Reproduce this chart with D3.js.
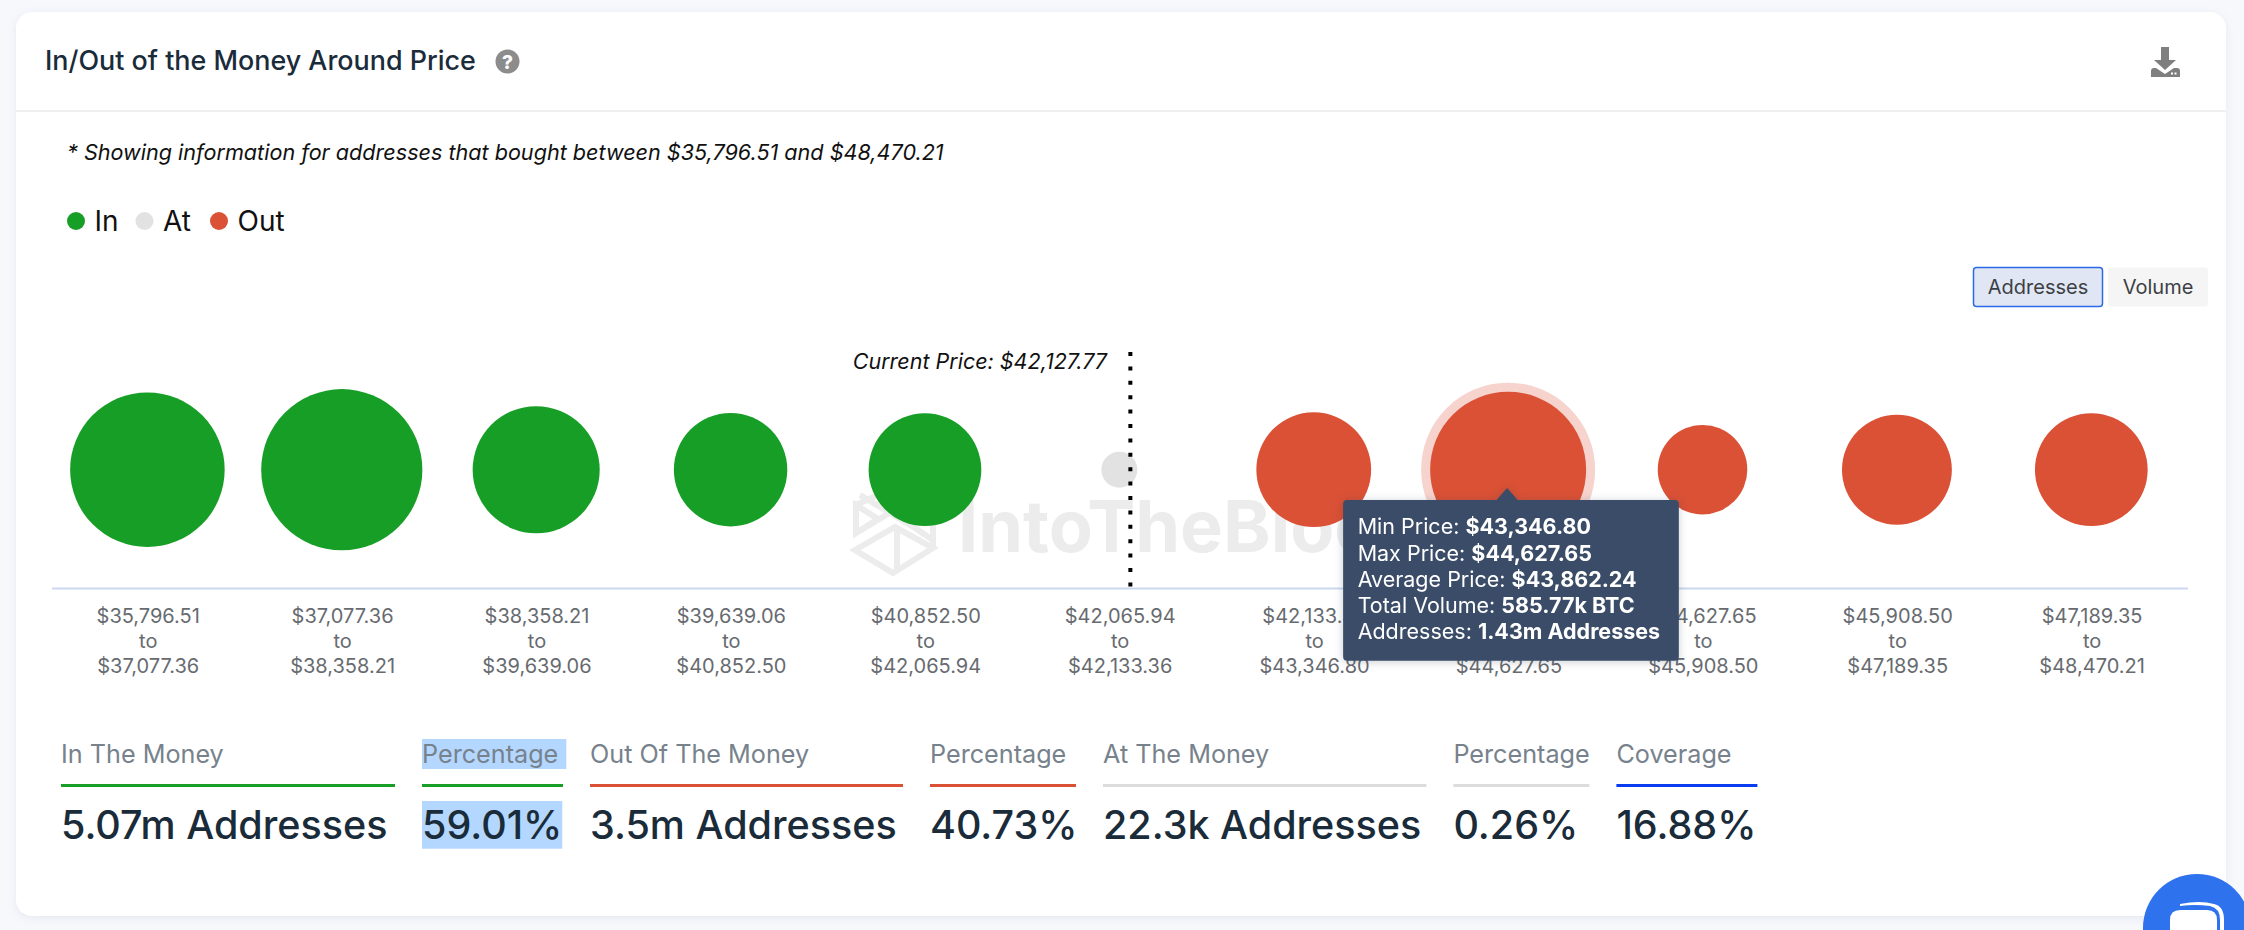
<!DOCTYPE html>
<html>
<head>
<meta charset="utf-8">
<script src="https://cdn.jsdelivr.net/npm/d3@7"></script>
<style>
  html, body { margin: 0; padding: 0; background: #f7f8fc; }
  svg { display: block; font-family: Inter, "Noto Sans", sans-serif; }
  .tick text { fill: #676b70; font-size: 20px; }
</style>
</head>
<body>
<svg id="chart" width="2244" height="930"></svg>
<script>
// --- Data ---
const binEdges = [35796.51, 37077.36, 38358.21, 39639.06, 40852.50, 42065.94, 42133.36,
                  43346.80, 44627.65, 45908.50, 47189.35, 48470.21];
const addresses = [1.40, 1.54, 0.89, 0.68, 0.67, 0.0223, 0.70, 1.43, 0.38, 0.63, 0.67]; // millions, estimated
const binStatus = ["In", "In", "In", "In", "In", "At", "Out", "Out", "Out", "Out", "Out"];
const legendItems = ["In", "At", "Out"];
const currentPrice = 42127.77;
const hoverBin = 7;
const tooltipLabels = ["Min Price: ", "Max Price: ", "Average Price: ", "Total Volume: ", "Addresses: "];
const tooltipValues = ["$43,346.80", "$44,627.65", "$43,862.24", "585.77k BTC", "1.43m Addresses"];
const statLabels = ["In The Money", "Percentage", "Out Of The Money", "Percentage", "At The Money", "Percentage", "Coverage"];
const statValues = ["5.07m Addresses", "59.01%", "3.5m Addresses", "40.73%", "22.3k Addresses", "0.26%", "16.88%"];
const statKinds = ["In", "In", "Out", "Out", "At", "At", "Coverage"];
const selectedStat = 1;

const statusColor = { In: "#179e26", At: "#e2e2e2", Out: "#da5136", Coverage: "#0a3cf0" };
const statColWidths = [334, 141, 313, 146, 323.4, 136, 141]; // layout only
const money = d3.format("$,.2f");

const svg = d3.select("#chart");

// --- Card ---
svg.append("rect")
  .attr("x", 16).attr("y", 12).attr("width", 2210).attr("height", 904).attr("rx", 16)
  .attr("fill", "#fff")
  .style("filter", "drop-shadow(0 2px 4px rgba(90,100,140,0.10))");
svg.append("line")
  .attr("x1", 16).attr("x2", 2226).attr("y1", 111).attr("y2", 111)
  .attr("stroke", "#ebebeb").attr("stroke-width", 1.5);

// --- Header ---
svg.append("text").attr("x", 45).attr("y", 70)
  .attr("font-size", 26.9).attr("font-weight", 500).attr("fill", "#1a2b3a")
  .text("In/Out of the Money Around Price");

const help = svg.append("g").attr("transform", "translate(507.5,61.5)");
help.append("circle").attr("r", 12).attr("fill", "#8c8c8c");
help.append("text").attr("y", 7).attr("text-anchor", "middle")
  .attr("font-size", 19).attr("font-weight", 800).attr("fill", "#fff").text("?");

// download icon
svg.append("path")
  .attr("d", "M2161,47h8v13h7l-11,10l-11,-10h7z M2151,71q0,-3 3,-3h2l9,6l9,-6h3q3,0 3,3v6h-29z")
  .attr("fill", "#7f7f7f");
svg.append("rect").attr("x", 2171).attr("y", 72.5).attr("width", 2).attr("height", 2).attr("fill", "#fff");
svg.append("rect").attr("x", 2174.5).attr("y", 72.5).attr("width", 2).attr("height", 2).attr("fill", "#fff");

svg.append("text").attr("x", 67).attr("y", 160)
  .attr("font-size", 21.6).attr("font-style", "italic").attr("fill", "#111")
  .text(`* Showing information for addresses that bought between ${money(binEdges[0])} and ${money(binEdges[binEdges.length - 1])}`);

// --- Legend ---
const legendX = d3.scaleOrdinal().domain(legendItems).range([76, 144.5, 219]);
const legend = svg.append("g").selectAll("g").data(legendItems).join("g")
  .attr("transform", (d) => `translate(${legendX(d)},221)`);
legend.append("circle").attr("r", 9).attr("fill", (d) => statusColor[d]);
legend.append("text").attr("x", 18.5).attr("y", 9.7)
  .attr("font-size", 28).attr("fill", "#111").text((d) => d);

// --- Toggle buttons ---
const toggle = [["Addresses", 1973.5, 129, true], ["Volume", 2108, 100, false]];
toggle.forEach(([label, x, w, active]) => {
  svg.append("rect").attr("x", x).attr("y", 267.5).attr("width", w).attr("height", 39).attr("rx", 3)
    .attr("fill", active ? "#e0e6f3" : "#f5f5f5")
    .attr("stroke", active ? "#2b6ae6" : "none").attr("stroke-width", 1.5);
  svg.append("text").attr("x", x + w / 2).attr("y", 294).attr("text-anchor", "middle")
    .attr("font-size", 20).attr("fill", "#3c3f44").text(label);
});

// --- Scales ---
const bins = addresses.map((_, i) => i);
const x = d3.scaleBand().domain(bins).range([50.2, 2188.5]);
const r = d3.scaleSqrt().domain([0.0223, 1.43]).range([18, 78]);
const cy = 469.7;
const cx = (i) => x(i) + x.bandwidth() / 2;

// --- Watermark ---
const mark = svg.append("g").attr("fill", "none").attr("stroke", "#ececec").attr("stroke-width", 6);
mark.append("path").attr("d", "M855,550L895,527L933,548L893,573Z");
mark.append("path").attr("d", "M897,530V571");
mark.append("path").attr("d", "M856,505V533L878,519Z");
mark.append("path").attr("d", "M856,505L893,488L933,511V548");
mark.append("path").attr("d", "M860,495L915,528L933,540");
mark.append("path").attr("d", "M856,533L898,508");
svg.append("text").attr("x", 958).attr("y", 551.7)
  .attr("font-size", 72).attr("font-weight", 700).attr("fill", "#ececec")
  .text("IntoTheBlock");

// --- Bubbles ---
svg.append("circle")
  .attr("cx", cx(hoverBin)).attr("cy", cy).attr("r", r(addresses[hoverBin]) + 9)
  .attr("fill", statusColor[binStatus[hoverBin]]).attr("fill-opacity", 0.25);

svg.append("g").selectAll("circle").data(bins).join("circle")
  .attr("cx", cx).attr("cy", cy)
  .attr("r", (i) => r(addresses[i]))
  .attr("fill", (i) => statusColor[binStatus[i]]);

// --- Axis ---
const axis = d3.axisBottom(x).tickSize(0).tickPadding(0);
const axisG = svg.append("g").attr("transform", "translate(0,588.5)").call(axis)
  .attr("font-family", null).attr("font-size", null);
axisG.select(".domain").remove();
axisG.selectAll(".tick text").each(function (i) {
  const t = d3.select(this).text(null).attr("y", 0).attr("dy", null);
  [money(binEdges[i]), "to", money(binEdges[i + 1])].forEach((line, k) => {
    t.append("tspan").attr("x", 0.8).attr("y", 34 + k * 25).text(line);
  });
});
svg.append("line").attr("x1", 52).attr("x2", 2188).attr("y1", 588.5).attr("y2", 588.5)
  .attr("stroke", "#cbd8f0").attr("stroke-width", 2);

// --- Current price marker (sits inside its narrow bin) ---
const priceBin = d3.bisectRight(binEdges, currentPrice) - 1;
const priceX = d3.scaleLinear()
  .domain([binEdges[priceBin], binEdges[priceBin + 1]])
  .range([cx(priceBin) - 13.2, cx(priceBin) + 13.2]);
svg.append("line")
  .attr("x1", priceX(currentPrice)).attr("x2", priceX(currentPrice))
  .attr("y1", 352).attr("y2", 587)
  .attr("stroke", "#000").attr("stroke-width", 4).attr("stroke-dasharray", "4 10.4");
svg.append("text").attr("x", 1107).attr("y", 369).attr("text-anchor", "end")
  .attr("font-size", 21.5).attr("font-style", "italic").attr("fill", "#111")
  .text(`Current Price: ${money(currentPrice)}`);

// --- Tooltip ---
const tipX = cx(hoverBin) - 165;
const tip = svg.append("g").style("filter", "drop-shadow(0 1px 4px rgba(40,50,70,0.25))");
tip.append("path")
  .attr("d", `M${cx(hoverBin) - 12},500.5L${cx(hoverBin) - 1},488L${cx(hoverBin) + 10},500.5Z`)
  .attr("fill", "#3a4c67");
tip.append("rect").attr("x", tipX).attr("y", 500).attr("width", 335.7).attr("height", 160.7).attr("rx", 4)
  .attr("fill", "#3a4c67");
const tipText = tip.selectAll("text").data(tooltipLabels).join("text")
  .attr("x", tipX + 14.5).attr("y", (_, i) => 534.4 + i * 26.1)
  .attr("font-size", 21.5).attr("fill", "#fff");
tipText.append("tspan").text((d) => d);
tipText.append("tspan").attr("font-weight", 700).text((_, i) => tooltipValues[i]);

// --- Stats row ---
const statG = svg.append("g");
let colX = 61;
statLabels.forEach((label, i) => {
  const col = statG.append("g").attr("transform", `translate(${colX},0)`);
  const selected = i === selectedStat;
  const labelBg = col.append("rect").attr("y", 739).attr("height", 30).attr("fill", selected ? "#b3d7ff" : "none");
  const valueBg = col.append("rect").attr("y", 801).attr("height", 47.7).attr("fill", selected ? "#b3d7ff" : "none");
  const lt = col.append("text").attr("y", 763)
    .attr("font-size", 25.2).attr("fill", "#77828c").text(label);
  const vt = col.append("text").attr("y", 839)
    .attr("font-size", 39.5).attr("font-weight", 500).attr("fill", "#1a2b3a").text(statValues[i]);
  labelBg.attr("width", lt.node().getComputedTextLength() + 8);
  valueBg.attr("width", vt.node().getComputedTextLength());
  col.append("rect").attr("y", 784).attr("width", statColWidths[i]).attr("height", 3)
    .attr("fill", statKinds[i] === "At" ? "#dcdcdc" : statusColor[statKinds[i]]);
  colX += statColWidths[i] + 27;
});

// --- Chat bubble ---
svg.append("circle").attr("cx", 2197).attr("cy", 928).attr("r", 54).attr("fill", "#2f72ee");
svg.append("path").attr("d", "M2180,904Q2200,900 2214,904Q2224,906 2224,920V930H2220V920Q2220,908 2210,906Q2195,904 2180,906Z")
  .attr("fill", "#fff");
svg.append("path").attr("d", "M2170,930V920Q2170,910 2180,910H2207Q2217,910 2217,920V930Z").attr("fill", "#fff");
</script>
</body>
</html>
